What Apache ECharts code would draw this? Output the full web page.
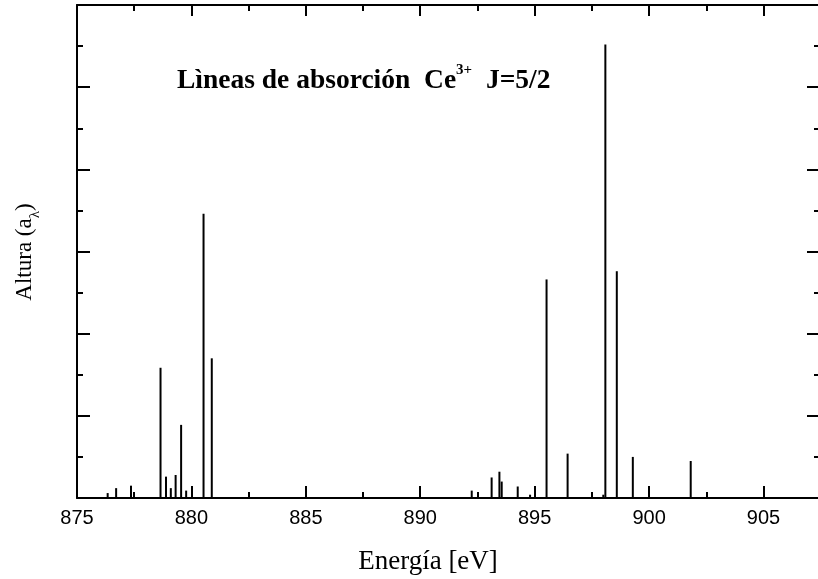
<!DOCTYPE html>
<html>
<head>
<meta charset="utf-8">
<script src="https://cdn.jsdelivr.net/npm/echarts@6/dist/echarts.min.js"></script>
<style>html,body{margin:0;padding:0;background:#fff;}#c{width:818px;height:579px;}</style>
</head>
<body>
<div id="c"></div>
<script>
// Absorption line energies (eV) and heights (a_lambda, arbitrary units)
var energies = [876.34, 876.71, 877.36, 878.65, 878.89, 879.10, 879.31, 879.55, 879.77, 880.53, 880.89,
                892.25, 893.12, 893.46, 893.56, 894.26, 894.80, 895.52, 896.44, 898.00, 898.09, 898.59, 899.29, 901.82];
var heights  = [0.06, 0.12, 0.15, 1.585, 0.26, 0.12, 0.28, 0.89, 0.09, 3.46, 1.70,
                0.09, 0.25, 0.32, 0.20, 0.14, 0.04, 2.66, 0.54, 0.04, 5.52, 2.76, 0.50, 0.45];
var xTickLabels = ['875', '880', '885', '890', '895', '900', '905'];

var lines = energies.map(function (e, i) { return [e, heights[i]]; });

var chart = echarts.init(document.getElementById('c'), null, {renderer: 'canvas'});
var axisLine = {show: true, onZero: false, lineStyle: {color: '#000', width: 2}};
var xMin = 875, xMax = 907.47;
var opt = {
  animation: false,
  backgroundColor: '#fff',
  grid: {left: 77, top: 5, width: 743, height: 493, containLabel: false, outerBoundsMode: 'none'},
  xAxis: [
    {type: 'value', min: xMin, max: xMax, interval: 5, position: 'bottom',
     axisLine: axisLine,
     axisTick: {show: true, inside: true, length: 12, lineStyle: {color: '#000', width: 2}},
     minorTick: {show: true, splitNumber: 2, length: 6, lineStyle: {color: '#000', width: 2}},
     splitLine: {show: false}, minorSplitLine: {show: false},
     axisLabel: {show: true, margin: 10, color: '#000', fontFamily: 'Liberation Sans', fontSize: 20,
                 showMaxLabel: false,
                 formatter: function (v) { var s = String(Math.round(v)); return xTickLabels.indexOf(s) >= 0 && Math.abs(v - Math.round(v)) < 1e-6 ? s : ''; }}},
    {type: 'value', min: xMin, max: xMax, interval: 5, position: 'top',
     axisLine: axisLine,
     axisTick: {show: true, inside: true, length: 11, lineStyle: {color: '#000', width: 2}},
     minorTick: {show: true, splitNumber: 2, length: 6, lineStyle: {color: '#000', width: 2}},
     splitLine: {show: false}, axisLabel: {show: false}}
  ],
  yAxis: [
    {type: 'value', min: 0, max: 6, interval: 1, position: 'left',
     axisLine: axisLine,
     axisTick: {show: true, inside: true, length: 13, lineStyle: {color: '#000', width: 2}},
     minorTick: {show: true, splitNumber: 2, length: 6, lineStyle: {color: '#000', width: 2}},
     splitLine: {show: false}, axisLabel: {show: false}},
    {type: 'value', min: 0, max: 6, interval: 1, position: 'right',
     axisLine: axisLine,
     axisTick: {show: true, inside: true, length: 13, lineStyle: {color: '#000', width: 2}},
     minorTick: {show: true, splitNumber: 2, length: 6, lineStyle: {color: '#000', width: 2}},
     splitLine: {show: false}, axisLabel: {show: false}}
  ],
  series: [{
    type: 'custom',
    xAxisIndex: 0, yAxisIndex: 0,
    data: lines,
    renderItem: function (params, api) {
      var p0 = api.coord([api.value(0), 0]);
      var p1 = api.coord([api.value(0), api.value(1)]);
      return {type: 'line', shape: {x1: p0[0], y1: p0[1], x2: p1[0], y2: p1[1]},
              style: {stroke: '#000', lineWidth: 2}};
    }
  }],
  graphic: [
    {type: 'text', x: 177, y: 79,
     style: {text: '{b|Lìneas de absorción  Ce}{s|3+}{b|  J=5/2}',
             verticalAlign: 'middle', align: 'left',
             rich: {
               b: {fontFamily: 'Liberation Serif', fontWeight: 'bold', fontSize: 27.5, fill: '#000', lineHeight: 32, verticalAlign: 'bottom'},
               s: {fontFamily: 'Liberation Serif', fontWeight: 'bold', fontSize: 15, fill: '#000', lineHeight: 32, verticalAlign: 'top'}
             }}},
    {type: 'text', x: 28, y: 252, rotation: Math.PI / 2,
     style: {text: '{n|Altura (a}{sub|λ}{n|)}', align: 'center', verticalAlign: 'middle',
             rich: {
               n: {fontFamily: 'Liberation Serif', fontSize: 23, fill: '#000', lineHeight: 30, verticalAlign: 'top'},
               sub: {fontFamily: 'Liberation Serif', fontSize: 15, fill: '#000', lineHeight: 30, verticalAlign: 'bottom'}
             }}},
    {type: 'text', x: 428, y: 562,
     style: {text: 'Energía [eV]', align: 'center', verticalAlign: 'middle',
             fontFamily: 'Liberation Serif', fontSize: 27, fill: '#000'}}
  ]
};
chart.setOption(opt);
</script>
</body>
</html>
